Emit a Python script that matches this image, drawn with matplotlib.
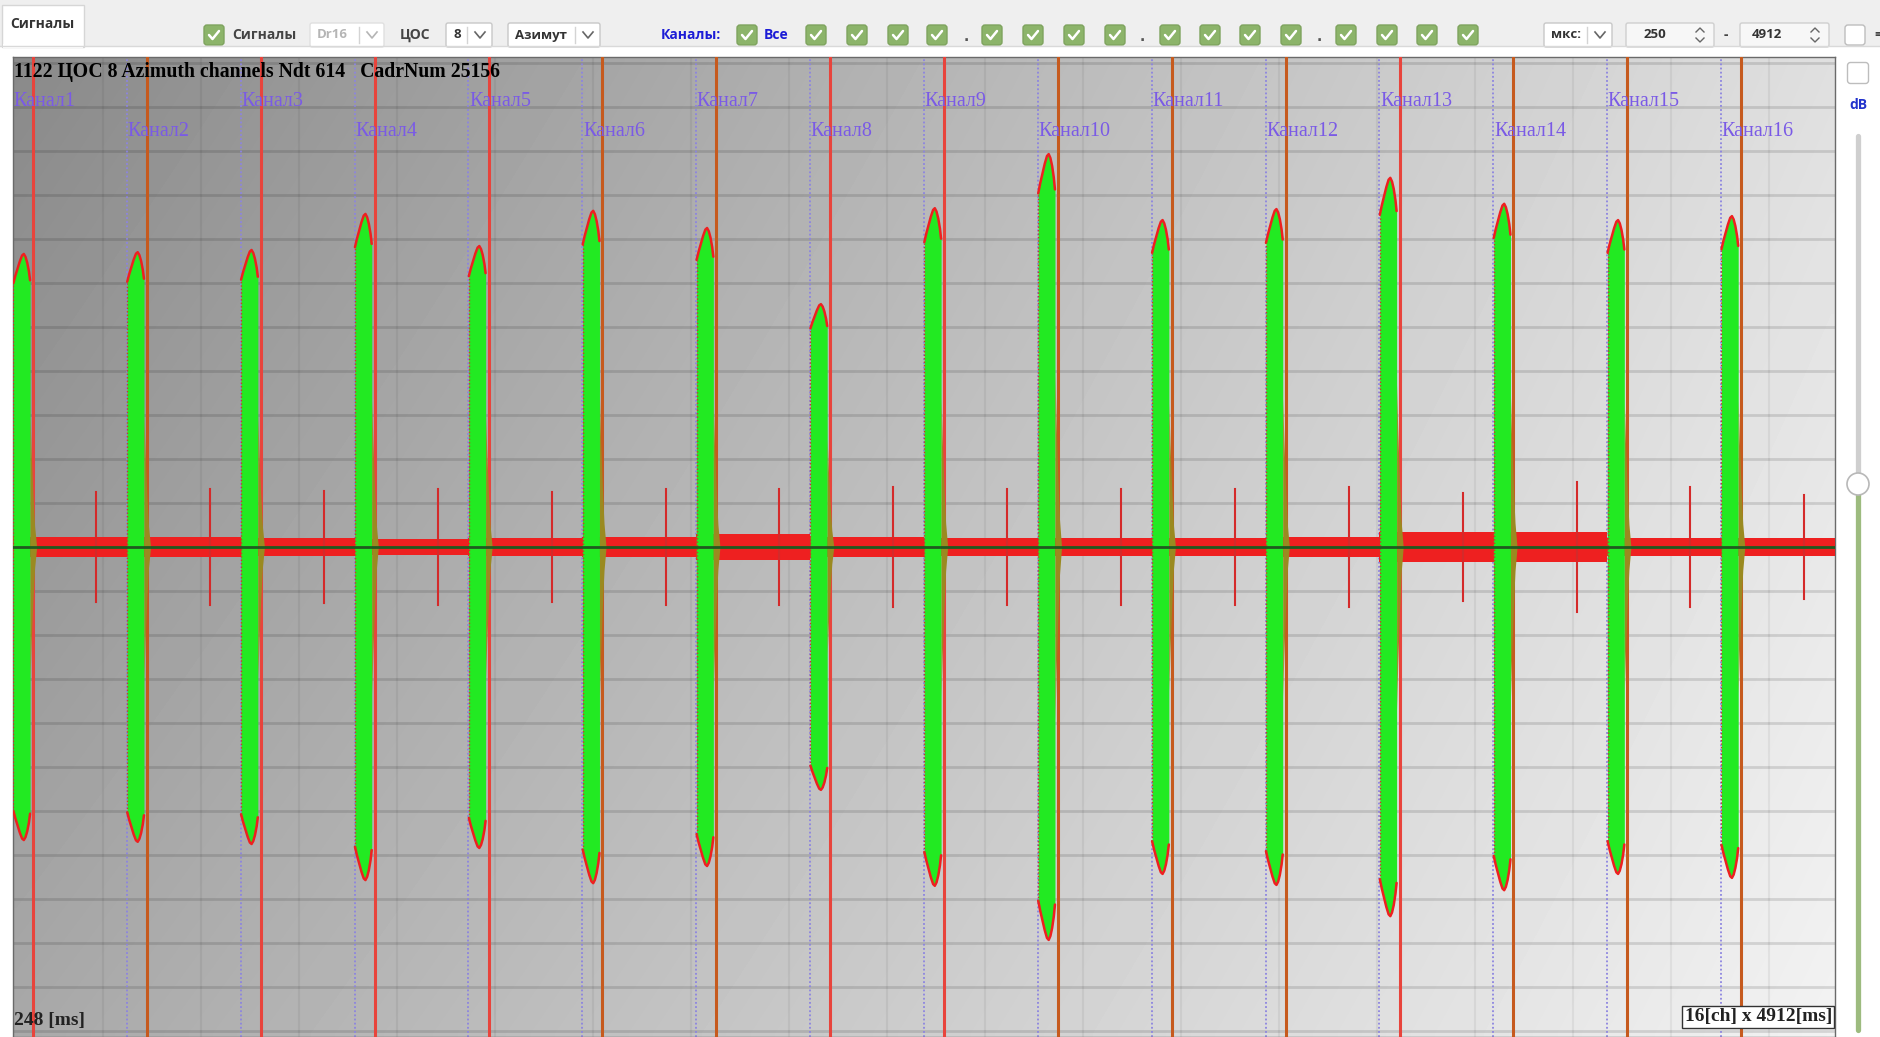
import numpy as np
import matplotlib.pyplot as plt
from matplotlib.patches import FancyBboxPatch, Rectangle, Circle

W, H = 1881, 1037
DPI = 100

# --- signal data (16 azimuth channels) ---
channel_names = [f"Канал{i}" for i in range(1, 17)]
pulse_amp = [6.66, 6.70, 6.75, 7.57, 6.84, 7.64, 7.25, 5.52,
             7.70, 8.93, 7.43, 7.68, 8.39, 7.80, 7.43, 7.52]
noise_amp = [0.23, 0.23, 0.20, 0.18, 0.20, 0.23, 0.29, 0.23,
             0.20, 0.20, 0.20, 0.23, 0.34, 0.34, 0.20, 0.20]
spike_amp = [1.25, 1.32, 1.27, 1.32, 1.25, 1.32, 1.32, 1.36,
             1.32, 1.32, 1.32, 1.36, 1.23, 1.48, 1.36, 1.18]
marker_kind = ["r", "o", "r", "r", "r", "o", "o", "r",
               "r", "o", "o", "o", "r", "o", "o", "o"]

# pulse envelope, offsets in channel widths / fraction of amplitude
pulse_dx = [0.000, 0.003, 0.020, 0.040, 0.060, 0.080, 0.095, 0.110, 0.125, 0.140, 0.150]
pulse_shape = [0.00, 0.90, 0.925, 0.95, 0.975, 0.995, 1.00, 0.99, 0.97, 0.94, 0.91]
tail_dx = [0.150, 0.160, 0.175, 0.190, 0.208]
tail_shape = [0.44, 0.32, 0.18, 0.07, 0.00]
marker_dx = 0.176
spike_dx = 0.73

header = "1122 ЦОС 8 Azimuth channels Ndt 614   CadrNum 25156"

GREEN = "#22ea22"
OLIVE = "#9a8a20"
RED = "#ee2020"
COLORS = {"r": "#e8443c", "o": "#c65a1e"}
PURPLE = "#7a5ae6"

YMAX = 490 / 44  # half height in grid divisions

fig = plt.figure(figsize=(W / DPI, H / DPI), dpi=DPI, facecolor="white")

# ---------- toolbar / side panel (pixel coordinates) ----------
ui = fig.add_axes([0, 0, 1, 1], zorder=0)
ui.set_xlim(0, W)
ui.set_ylim(H, 0)
ui.axis("off")

UI_FONT = "Open Sans"

ui.add_patch(Rectangle((0, 0), W, 46, fc="#efefef", ec="none"))
ui.plot([0, W], [46, 46], color="#d9d9d9", lw=1)
ui.add_patch(Rectangle((2, 5), 82, 42, fc="white", ec="#d6d6d6", lw=1))
ui.add_patch(Rectangle((3, 44), 80, 4, fc="white", ec="none"))
ui.text(10, 24, "Сигналы", fontsize=10, fontweight="bold", family=UI_FONT,
        color="#333333", va="center")


def checkbox(cx, cy, checked=True, size=20):
    fc, ec = ("#8cb46a", "#7ea35e") if checked else ("white", "#bdbdbd")
    ui.add_patch(FancyBboxPatch((cx - size / 2, cy - size / 2), size, size,
                                boxstyle="round,pad=0,rounding_size=3",
                                fc=fc, ec=ec, lw=1))
    if checked:
        ui.plot([cx - 5, cx - 1.5, cx + 5], [cy, cy + 4, cy - 4],
                color="white", lw=1.8, solid_capstyle="round")


def combo(x0, x1, text, cy=35, tcolor="#333333", ecol="#c8c8c8"):
    ui.add_patch(FancyBboxPatch((x0, cy - 12), x1 - x0, 24,
                                boxstyle="round,pad=0,rounding_size=2",
                                fc="white", ec=ecol, lw=1))
    ui.text(x0 + 7, cy, text, fontsize=9.5, fontweight="bold", family=UI_FONT,
            color=tcolor, va="center")
    ui.plot([x1 - 25, x1 - 25], [cy - 8, cy + 8], color="#d4d4d4", lw=1)
    ui.plot([x1 - 17, x1 - 12, x1 - 7], [cy - 3, cy + 3, cy - 3],
            color="#666666" if tcolor != "#b5b5b5" else "#b5b5b5", lw=1.2)


def spinbox(x0, x1, text, tx, cy=35):
    ui.add_patch(FancyBboxPatch((x0, cy - 12), x1 - x0, 24,
                                boxstyle="round,pad=0,rounding_size=2",
                                fc="#f7f7f7", ec="#cfcfcf", lw=1))
    ui.text(tx, cy, text, fontsize=9.5, fontweight="bold", family=UI_FONT,
            color="#333333", va="center")
    ax_ = x1 - 14
    ui.plot([ax_ - 4, ax_, ax_ + 4], [cy - 3, cy - 7, cy - 3], color="#666666", lw=1)
    ui.plot([ax_ - 4, ax_, ax_ + 4], [cy + 3, cy + 7, cy + 3], color="#666666", lw=1)


checkbox(214, 35)
ui.text(232, 35, "Сигналы", fontsize=10, fontweight="bold", family=UI_FONT,
        color="#444444", va="center")
combo(310, 384, "Dr16", tcolor="#b5b5b5", ecol="#e0e0e0")
ui.text(400, 35, "ЦОС", fontsize=10, fontweight="bold", family=UI_FONT,
        color="#444444", va="center")
combo(446, 492, "8")
combo(508, 600, "Азимут")
ui.text(661, 35, "Каналы:", fontsize=10, fontweight="bold", family=UI_FONT,
        color="#1c1cd6", va="center")
checkbox(747, 35)
ui.text(764, 35, "Все", fontsize=10, fontweight="bold", family=UI_FONT,
        color="#1c1cd6", va="center")
for cx in [816, 857, 898, 937, 992, 1033, 1074, 1115,
           1170, 1210, 1250, 1291, 1346, 1387, 1427, 1468]:
    checkbox(cx, 35)
for dx in [966, 1142, 1319]:
    ui.text(dx, 37, ".", fontsize=10, fontweight="bold", color="#555555",
            ha="center", va="center")
combo(1544, 1612, "мкс:")
spinbox(1626, 1714, "250", 1644)
ui.text(1726, 35, "-", fontsize=10, fontweight="bold", family=UI_FONT,
        color="#444444", va="center", ha="center")
spinbox(1740, 1829, "4912", 1752)
checkbox(1855, 35, checked=False)
ui.text(1874, 35, "=", fontsize=10, fontweight="bold", family=UI_FONT,
        color="#444444", va="center")

# right side: dB slider
checkbox(1858, 73, checked=False, size=21)
ui.text(1858, 105, "dB", fontsize=10, fontweight="bold", family=UI_FONT,
        color="#2233cc", ha="center", va="center")
ui.plot([1858, 1858], [136, 484], color="#cfcfcf", lw=3.8, solid_capstyle="round")
ui.plot([1858, 1858], [484, 1030], color="#9dbb7f", lw=3.8, solid_capstyle="round")
ui.add_patch(Circle((1858, 484), 11, fc="white", ec="#b8b8b8", lw=1.2, zorder=5))

# ---------- signal plot ----------
ax = fig.add_axes([13 / W, 0, 1822 / W, 980 / H], zorder=1)
ax.set_xlim(0, 16)
ax.set_ylim(-YMAX, YMAX)
ax.set_xticks([])
ax.set_yticks([])
for s in ax.spines.values():
    s.set_color("#6a6a6a")
    s.set_linewidth(1)

# shaded background
gx = np.linspace(0, 1, 256)[None, :]
gy = np.linspace(0, 1, 128)[:, None]
shade = (0.54 * (1 - gx) * (1 - gy) + 0.875 * gx * (1 - gy)
         + 0.66 * (1 - gx) * gy + 0.95 * gx * gy)
ax.imshow(shade, extent=[0, 16, -YMAX, YMAX], aspect="auto", cmap="gray",
          vmin=0, vmax=1, interpolation="bilinear", zorder=0)

# grid
for gyv in range(-11, 12):
    ax.axhline(gyv, color="black", alpha=0.12, lw=2.0, zorder=1)
for gxv in np.arange(0.79, 16, 0.8606):
    ax.axvline(gxv, color="black", alpha=0.055, lw=1.5, zorder=1)

starts = np.arange(16)

# channel boundaries and channel markers
for k in starts[1:]:
    ax.axvline(k, color="#8c84e0", lw=1.3, ls=(0, (1, 1.3)), zorder=2)
for k in starts:
    ax.axvline(k + marker_dx, color=COLORS[marker_kind[k]], lw=2.2, zorder=3)

# background noise and spikes
edges = np.arange(17)
nz = np.array(noise_amp + [noise_amp[-1]])
ax.fill_between(edges, -nz, nz, step="post", color=RED, lw=0, zorder=4)
for k in starts:
    ax.plot([k + spike_dx, k + spike_dx], [-spike_amp[k], spike_amp[k]],
            color="#d42a2a", lw=1.5, zorder=4)

# pulses
for k in starts:
    a = pulse_amp[k]
    xs = k + np.array(pulse_dx)
    env = a * np.array(pulse_shape)
    ax.fill_between(xs, -env, env, color=GREEN, lw=0, zorder=6)
    ax.plot(xs[1:], env[1:], color=RED, lw=1.8, zorder=7, solid_capstyle="round")
    ax.plot(xs[1:], -env[1:], color=RED, lw=1.8, zorder=7, solid_capstyle="round")
    ax.plot([xs[1], xs[1]], [-env[1], env[1]], color="#c83a2a", lw=1.0,
            ls=(0, (1, 1.5)), zorder=7)
    xt = k + np.array(tail_dx)
    et = a * np.array(tail_shape)
    ax.fill_between(xt, -et, et, color=OLIVE, lw=0, zorder=6)

ax.axhline(0, color="#1f5a1f", lw=2, zorder=8)

# texts
ax.text(0.005, (547 - 72) / 44, header, family="Liberation Serif",
        fontweight="bold", fontsize=14.2, color="black", va="center", zorder=9)
for k in starts:
    row_y = (547 - 102) / 44 if k % 2 == 0 else (547 - 132) / 44
    ax.text(k + 0.005, row_y, channel_names[k], family="Liberation Serif",
            fontsize=14.5, color=PURPLE, va="center", zorder=9)
ax.text(0.005, (547 - 1020) / 44, "248 [ms]", family="Liberation Serif",
        fontweight="bold", fontsize=14, color="#222222", va="center", zorder=9)
ax.text(15.975, (547 - 1017) / 44, "16[ch] x 4912[ms]", family="Liberation Serif",
        fontweight="bold", fontsize=14, color="#222222", va="center", ha="right",
        zorder=9, bbox=dict(boxstyle="square,pad=0.12", fc="white", ec="#333333", lw=1))

fig.savefig("out.png", dpi=DPI, facecolor=fig.get_facecolor())
